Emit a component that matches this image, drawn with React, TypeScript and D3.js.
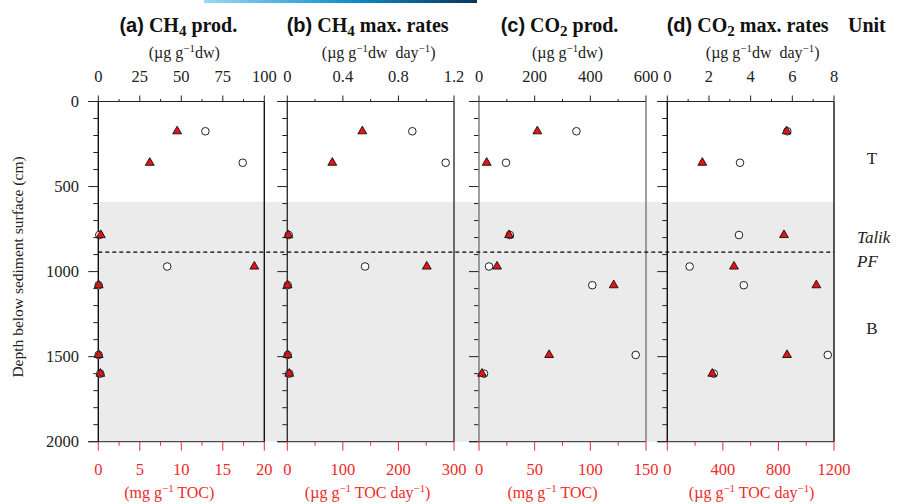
import React from "react";
import * as d3 from "d3";

// sampling depths (cm)
const depths = [175, 360, 785, 970, 1080, 1490, 1600];

// (a) CH4 production
const ch4ProdDw = [64.5, 87, 0.6, 41.5, 0.2, 0.2, 1.2];
const ch4ProdToc = [9.5, 6.2, 0.3, 18.8, 0.05, 0.05, 0.25];
// (b) CH4 max. rates
const ch4RateDw = [0.9, 1.14, 0.01, 0.56, 0.003, 0.003, 0.014];
const ch4RateToc = [135, 81, 1.8, 251, 0.5, 0.5, 3.6];
// (c) CO2 production
const co2ProdDw = [350, 97, 111, 36, 407, 563, 18];
const co2ProdToc = [52.4, 6.9, 27, 16.2, 121, 63, 2.7];
// (d) CO2 max. rates
const co2RateDw = [5.76, 3.49, 3.44, 1.07, 3.67, 7.7, 2.23];
const co2RateToc = [859, 252, 840, 480, 1073, 862, 324];

const letters = ["(a)", "(b)", "(c)", "(d)"];
const gases = ["CH", "CH", "CO", "CO"];
const gasSubs = ["4", "4", "2", "2"];
const names = ["prod.", "max. rates", "prod.", "max. rates"];

const topTicks = [
  ["0", "25", "50", "75", "100"],
  ["0", "0.4", "0.8", "1.2"],
  ["0", "200", "400", "600"],
  ["0", "2", "4", "6", "8"],
];
const bottomTicks = [
  ["0", "5", "10", "15", "20"],
  ["0", "100", "200", "300"],
  ["0", "50", "100", "150"],
  ["0", "400", "800", "1200"],
];
const depthTicks = [0, 500, 1000, 1500, 2000];

const dwSeries = [ch4ProdDw, ch4RateDw, co2ProdDw, co2RateDw];
const tocSeries = [ch4ProdToc, ch4RateToc, co2ProdToc, co2RateToc];

const units = ["T", "B"];
const unitDepths = [330, 1330];
const boundaryDepth = 885;
const talikTop = 590;

const SERIF = "'Liberation Serif', 'Times New Roman', serif";
const SANS = "'Liberation Sans', Arial, sans-serif";
const RED = "#ee2a2a";

const panelX: [number, number][] = [
  [98.3, 264.3],
  [287.3, 454],
  [479, 646],
  [667.3, 834],
];
const borderColor = ["#111", "#333", "#777", "#111"];
const topUnitShift = [3, 8, 5, 12];
const bottomUnitShift = [-12, -3, -10, 1];

type Part = { t: string; sup?: boolean };
const topUnit: Part[][] = [
  [{ t: "(µg g" }, { t: "−1", sup: true }, { t: "dw)" }],
  [{ t: "(µg g" }, { t: "−1", sup: true }, { t: "dw  day" }, { t: "−1", sup: true }, { t: ")" }],
  [{ t: "(µg g" }, { t: "−1", sup: true }, { t: "dw)" }],
  [{ t: "(µg g" }, { t: "−1", sup: true }, { t: "dw  day" }, { t: "−1", sup: true }, { t: ")" }],
];
const bottomUnit: Part[][] = [
  [{ t: "(mg g" }, { t: "−1", sup: true }, { t: " TOC)" }],
  [{ t: "(µg g" }, { t: "−1", sup: true }, { t: " TOC day" }, { t: "−1", sup: true }, { t: ")" }],
  [{ t: "(mg g" }, { t: "−1", sup: true }, { t: " TOC)" }],
  [{ t: "(µg g" }, { t: "−1", sup: true }, { t: " TOC day" }, { t: "−1", sup: true }, { t: ")" }],
];

const SupText: React.FC<{ parts: Part[]; x: number; y: number; fill: string; size: number }> = ({
  parts,
  x,
  y,
  fill,
  size,
}) => {
  let prevSup = false;
  return (
    <text x={x} y={y} textAnchor="middle" fontFamily={SERIF} fontSize={size} fill={fill}>
      {parts.map((p, i) => {
        const dy = p.sup ? -6 : prevSup ? 6 : 0;
        prevSup = !!p.sup;
        return (
          <tspan key={i} dy={dy} fontSize={p.sup ? size * 0.68 : size} style={{ whiteSpace: "pre" }}>
            {p.t}
          </tspan>
        );
      })}
    </text>
  );
};

const App: React.FC = () => {
  const width = 897;
  const height = 504;
  const y = d3.scaleLinear().domain([0, 2000]).range([101.5, 441.7]);
  const yTop = y(0);
  const yBot = y(2000);
  const tri = d3.symbol(d3.symbolTriangle, 34)()!;
  const minorDepth = d3.range(0, 2001, 100);

  return (
    <svg width={width} height={height} style={{ position: "absolute", left: 0, top: 0 }}>
      <defs>
        <linearGradient id="band" x1="0" x2="1" y1="0" y2="0">
          <stop offset="0" stopColor="#9bd9f6" />
          <stop offset="0.55" stopColor="#0a8dcc" />
          <stop offset="1" stopColor="#0c3557" />
        </linearGradient>
      </defs>
      <rect x={0} y={0} width={width} height={height} fill="#fff" />
      <rect x={204} y={0} width={273} height={3} fill="url(#band)" />

      {/* grey lower zone across all panels */}
      <rect
        x={panelX[0][0]}
        y={y(talikTop)}
        width={panelX[3][1] - panelX[0][0]}
        height={yBot - y(talikTop)}
        fill="#ebebeb"
      />

      {/* y axis labels */}
      {depthTicks.map((d) => (
        <text key={d} x={79} y={y(d) + 5.5} textAnchor="end" fontFamily={SERIF} fontSize={16.5} fill="#222">
          {d}
        </text>
      ))}
      <text
        transform={`translate(23,267) rotate(-90)`}
        textAnchor="middle"
        fontFamily={SERIF}
        fontSize={15.5}
        fill="#222"
      >
        Depth below sediment surface (cm)
      </text>

      {panelX.map(([x0, x1], p) => {
        const xTopMax = +topTicks[p][topTicks[p].length - 1];
        const xBotMax = +bottomTicks[p][bottomTicks[p].length - 1];
        const xTop = d3.scaleLinear().domain([0, xTopMax]).range([x0, x1]);
        const xBot = d3.scaleLinear().domain([0, xBotMax]).range([x0, x1]);
        const tStep = +topTicks[p][1] / 2;
        const bStep = +bottomTicks[p][1] / 2;
        const topMinor = d3.range(0, xTopMax + tStep / 2, tStep);
        const botMinor = d3.range(0, xBotMax + bStep / 2, bStep);
        const cx = (x0 + x1) / 2;
        return (
          <g key={p}>
            {/* left depth ticks */}
            {minorDepth.map((d) => (
              <line
                key={d}
                x1={x0 - (d % 500 === 0 ? 10 : 5)}
                x2={x0}
                y1={y(d)}
                y2={y(d)}
                stroke="#222"
                strokeWidth={1}
              />
            ))}
            {/* frame */}
            <line x1={x0 - 10} x2={x1} y1={yTop} y2={yTop} stroke="#222" strokeWidth={1} />
            <line x1={x0 - 10} x2={x1} y1={yBot} y2={yBot} stroke="#222" strokeWidth={1} />
            <line x1={x0} x2={x0} y1={yTop} y2={yBot} stroke={borderColor[p]} strokeWidth={1.4} />
            <line x1={x1} x2={x1} y1={yTop} y2={yBot} stroke={borderColor[p]} strokeWidth={1.4} />

            {/* top axis */}
            {topMinor.map((v, i) => (
              <line
                key={i}
                x1={xTop(v)}
                x2={xTop(v)}
                y1={yTop}
                y2={yTop - (i % 2 === 0 ? 6 : 2.5)}
                stroke="#222"
                strokeWidth={1}
              />
            ))}
            {topTicks[p].map((t) => (
              <text key={t} x={xTop(+t)} y={82} textAnchor="middle" fontFamily={SERIF} fontSize={16.5} fill="#222">
                {t}
              </text>
            ))}

            {/* bottom axis */}
            {botMinor.map((v, i) => (
              <line
                key={i}
                x1={xBot(v)}
                x2={xBot(v)}
                y1={yBot}
                y2={yBot + (i % 2 === 0 ? 9 : 4)}
                stroke={RED}
                strokeWidth={1}
              />
            ))}
            {bottomTicks[p].map((t) => (
              <text key={t} x={xBot(+t)} y={475} textAnchor="middle" fontFamily={SERIF} fontSize={16.5} fill={RED}>
                {t}
              </text>
            ))}

            {/* titles */}
            <text x={cx - 3} y={32} textAnchor="middle" fontSize={20} fontWeight="bold" fill="#111">
              <tspan fontFamily={SANS}>{letters[p]}</tspan>
              <tspan fontFamily={SERIF}> {gases[p]}</tspan>
              <tspan fontFamily={SERIF} fontSize={15} dy={4}>
                {gasSubs[p]}
              </tspan>
              <tspan fontFamily={SERIF} dy={-4}>
                {" " + names[p]}
              </tspan>
            </text>
            <SupText parts={topUnit[p]} x={cx + topUnitShift[p]} y={58} fill="#222" size={16} />
            <SupText parts={bottomUnit[p]} x={cx + bottomUnitShift[p]} y={498} fill={RED} size={16} />

            {/* data */}
            {depths.map((d, i) => (
              <circle
                key={"c" + i}
                cx={xTop(dwSeries[p][i])}
                cy={y(d)}
                r={3.8}
                fill="#fff"
                stroke="#222"
                strokeWidth={1}
              />
            ))}
            {depths.map((d, i) => (
              <path
                key={"t" + i}
                d={tri}
                transform={`translate(${xBot(tocSeries[p][i])},${y(d)})`}
                fill="#e8101a"
                stroke="#111"
                strokeWidth={0.9}
              />
            ))}
          </g>
        );
      })}

      {/* talik / permafrost boundary */}
      <line
        x1={panelX[0][0]}
        x2={panelX[3][1]}
        y1={y(boundaryDepth)}
        y2={y(boundaryDepth)}
        stroke="#000"
        strokeWidth={1.2}
        strokeDasharray="4,3"
      />

      {/* unit column */}
      <text x={848} y={32} fontFamily={SERIF} fontSize={20} fontWeight="bold" fill="#111">
        Unit
      </text>
      {units.map((u, i) => (
        <text key={u} x={872} y={y(unitDepths[i]) + 6} textAnchor="middle" fontFamily={SERIF} fontSize={17} fill="#222">
          {u}
        </text>
      ))}
      <text x={857} y={243} fontFamily={SERIF} fontStyle="italic" fontSize={17} fill="#222">
        Talik
      </text>
      <text x={857} y={267} fontFamily={SERIF} fontStyle="italic" fontSize={17} fill="#222">
        PF
      </text>
    </svg>
  );
};

export default App;
